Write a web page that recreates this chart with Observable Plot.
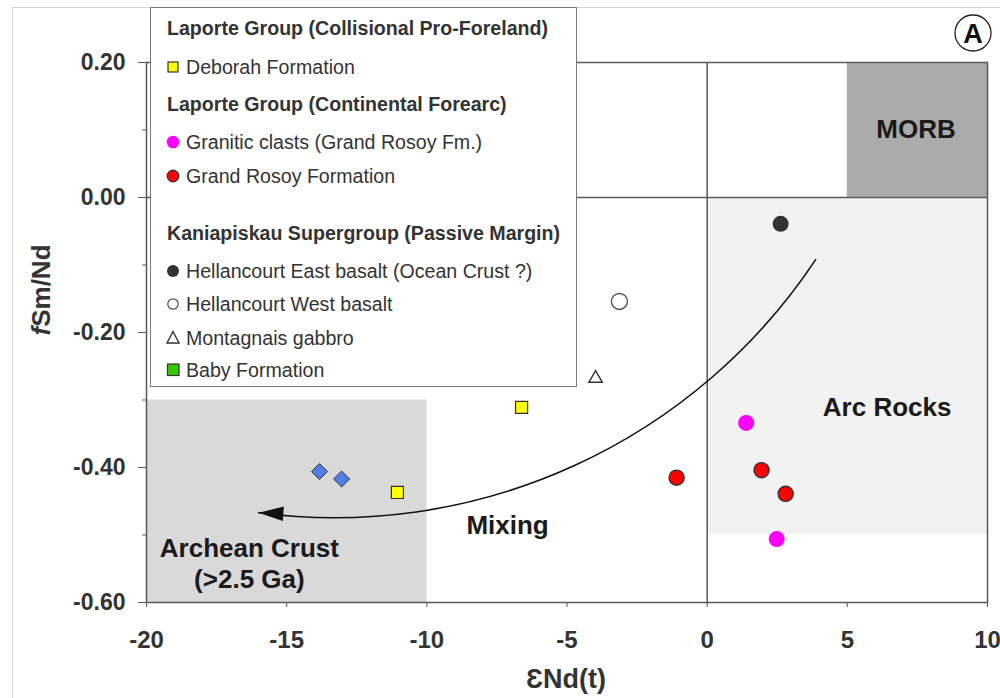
<!DOCTYPE html>
<html>
<head>
<meta charset="utf-8">
<script src="https://cdn.jsdelivr.net/npm/d3@7"></script>
<script src="https://cdn.jsdelivr.net/npm/@observablehq/plot@0.6"></script>
<style>
  body { margin: 0; background: #fff; font-family: "Liberation Sans", Arial, sans-serif; }
  #wrap { position: relative; width: 1000px; height: 698px; overflow: hidden; background: #fff; }
  #wrap > svg { position: absolute; left: 0; top: 0; }
  #outer { position: absolute; left: 12px; top: 7px; width: 1100px; height: 800px;
           border-left: 1.5px solid #d4d4d4; border-top: 1.5px solid #d4d4d4; }
  #legend { position: absolute; left: 150px; top: 7px; width: 425px; height: 378px;
            border: 1.5px solid #7a7a7a; background: #fff; }
  .lrow { position: absolute; height: 22px; line-height: 22px; font-size: 19.6px; color: #333; white-space: nowrap; }
  .lrow.hdr { font-weight: bold; }
  .lmark { position: absolute; }
</style>
</head>
<body>
<div id="wrap">
  <div id="outer"></div>
</div>
<script>
// ---------- data ----------
const xTicks = [-20, -15, -10, -5, 0, 5, 10];
const xTickLabels = ["-20", "-15", "-10", "-5", "0", "5", "10"];
const yTicks = [0.2, 0, -0.2, -0.4, -0.6];
const yTickLabels = ["0.20", "0.00", "-0.20", "-0.40", "-0.60"];
const yMinorTicks = [0.1, -0.1, -0.3, -0.5];

// samples: εNd(t), fSm/Nd
const deborah = [{x: -11.05, y: -0.437}, {x: -6.62, y: -0.311}];
const archeanSamples = [{x: -13.83, y: -0.406}, {x: -13.04, y: -0.417}];
const granitic = [{x: 1.39, y: -0.334}, {x: 2.48, y: -0.506}];
const grandRosoy = [{x: -1.09, y: -0.415}, {x: 1.94, y: -0.404}, {x: 2.80, y: -0.439}];
const hellancourtEast = [{x: 2.62, y: -0.039}];
const hellancourtWest = [{x: -3.13, y: -0.154}];
const montagnais = [{x: -3.98, y: -0.268}];
const babyFormation = [];

// fields of the diagram
const regions = [
  {name: "MORB", x1: 5, x2: 10, y1: 0, y2: 0.2},
  {name: "Arc", x1: 0, x2: 10, y1: -0.5, y2: 0},
  {name: "Archean", x1: -20, x2: -10, y1: -0.6, y2: -0.3}
];
const regionLabels = [
  {label: "MORB", x: 7.45, y: 0.1},
  {label: "Arc Rocks", x: 6.42, y: -0.312},
  {label: "Mixing", x: -7.12, y: -0.486},
  {label: "Archean Crust", x: -16.33, y: -0.5205},
  {label: "(>2.5 Ga)", x: -16.33, y: -0.566}
];
const mixingArrow = [{x1: 3.87, y1: -0.092, x2: -16.0, y2: -0.467}];

const legendRows = [
  {text: "Laporte Group (Collisional Pro-Foreland)", header: true},
  {text: "Deborah Formation", marker: "yellowSquare"},
  {text: "Laporte Group (Continental Forearc)", header: true},
  {text: "Granitic clasts (Grand Rosoy Fm.)", marker: "magentaCircle"},
  {text: "Grand Rosoy Formation", marker: "redCircle"},
  {text: "Kaniapiskau Supergroup (Passive Margin)", header: true},
  {text: "Hellancourt East basalt (Ocean Crust ?)", marker: "darkCircle"},
  {text: "Hellancourt West basalt", marker: "openCircle"},
  {text: "Montagnais gabbro", marker: "openTriangle"},
  {text: "Baby Formation", marker: "greenSquare"}
];

// ---------- styles ----------
const regionFill = {MORB: "#ababab", Arc: "#f2f2f2", Archean: "#d9d9d9"};
const lineColor = "#595959";
const legendRowCenters = [28, 67, 104, 142, 176, 233, 271, 304, 338, 370];

const arrowHead = {
  draw(context) {
    context.moveTo(0, 0);
    context.lineTo(24.2, 8.4);
    context.lineTo(25.2, -6.2);
    context.closePath();
  }
};

const chart = Plot.plot({
  width: 1000,
  height: 698,
  marginLeft: 146,
  marginRight: 13,
  marginTop: 62,
  marginBottom: 96,
  x: {domain: [-20, 10]},
  y: {domain: [-0.6, 0.2]},
  color: {type: "identity"},
  style: {fontFamily: "'Liberation Sans', Arial, sans-serif", background: "transparent", overflow: "visible"},
  marks: [
    Plot.rect(regions, {x1: "x1", x2: "x2", y1: "y1", y2: "y2", fill: d => regionFill[d.name]}),
    Plot.ruleX([0], {stroke: lineColor, strokeWidth: 1.5}),
    Plot.ruleY([0], {stroke: lineColor, strokeWidth: 1.5}),
    Plot.frame({stroke: lineColor, strokeWidth: 1.5}),
    Plot.axisY(yMinorTicks, {anchor: "left", tickSize: 4, tickFormat: () => "", label: null, stroke: lineColor}),
    Plot.axisY(yTicks, {anchor: "left", tickSize: 8, tickPadding: 13, label: null,
      tickFormat: d => yTickLabels[yTicks.indexOf(d)], fontSize: 23, fontWeight: "bold", fill: "#333", stroke: lineColor}),
    Plot.axisX(xTicks, {anchor: "bottom", tickSize: 5, tickPadding: 23, label: null,
      tickFormat: d => xTickLabels[xTicks.indexOf(d)], fontSize: 24, fontWeight: "bold", fill: "#333", stroke: lineColor}),
    Plot.arrow(mixingArrow, {x1: "x1", y1: "y1", x2: "x2", y2: "y2", bend: 32, headLength: 0,
      stroke: "#111", strokeWidth: 1.6}),
    Plot.dot(mixingArrow, {x: "x2", y: "y2", symbol: arrowHead, r: 5, fill: "#111", stroke: "none"}),
    Plot.dot(archeanSamples, {x: "x", y: "y", symbol: "diamond2", r: 7.2, fill: "#4f7fe6", stroke: "#333", strokeWidth: 1}),
    Plot.dot(deborah, {x: "x", y: "y", symbol: "square", r: 6.8, fill: "#ffff00", stroke: "#333", strokeWidth: 1.2}),
    Plot.dot(granitic, {x: "x", y: "y", r: 8, fill: "#ff00ff", stroke: "none"}),
    Plot.dot(grandRosoy, {x: "x", y: "y", r: 7.6, fill: "#ff0000", stroke: "#333", strokeWidth: 1.3}),
    Plot.dot(hellancourtEast, {x: "x", y: "y", r: 8, fill: "#333", stroke: "none"}),
    Plot.dot(hellancourtWest, {x: "x", y: "y", r: 8, fill: "none", stroke: "#555", strokeWidth: 1.4}),
    Plot.dot(montagnais, {x: "x", y: "y", symbol: "triangle", r: 5, fill: "none", stroke: "#333", strokeWidth: 1.4}),
    Plot.dot(babyFormation, {x: "x", y: "y", symbol: "square", r: 6.8, fill: "#33cc00", stroke: "#333"}),
    Plot.text(regionLabels, {x: "x", y: "y", text: "label", fontSize: 26, fontWeight: "bold", fill: "#1a1a1a"})
  ]
});

const wrap = document.getElementById("wrap");
wrap.appendChild(chart);

// axis titles and panel letter
const svg = d3.select(chart);
const yl = svg.append("text")
  .attr("transform", "translate(50,290) rotate(-90)")
  .attr("text-anchor", "middle")
  .attr("font-size", 26).attr("font-weight", "bold").attr("fill", "#333");
yl.append("tspan").attr("font-style", "italic").text("f");
yl.append("tspan").text("Sm/Nd");
svg.append("text")
  .attr("x", 566).attr("y", 688)
  .attr("text-anchor", "middle")
  .attr("font-size", 27).attr("font-weight", "bold").attr("fill", "#333")
  .text("ƐNd(t)");
svg.append("circle").attr("cx", 973).attr("cy", 33).attr("r", 18)
  .attr("fill", "#fff").attr("stroke", "#222").attr("stroke-width", 1.3);
svg.append("text").attr("x", 973).attr("y", 43).attr("text-anchor", "middle")
  .attr("font-size", 27).attr("font-weight", "bold").attr("fill", "#111").text("A");

// legend (HTML overlay)
const legend = document.createElement("div");
legend.id = "legend";
wrap.appendChild(legend);

const markerSvg = {
  yellowSquare: '<rect x="2" y="6" width="10" height="10" fill="#ffff00" stroke="#333" stroke-width="1.2"/>',
  magentaCircle: '<circle cx="7" cy="11" r="6.3" fill="#ff00ff"/>',
  redCircle: '<circle cx="7" cy="11" r="5.8" fill="#ff0000" stroke="#333" stroke-width="1.3"/>',
  darkCircle: '<circle cx="7" cy="11" r="6" fill="#333"/>',
  openCircle: '<circle cx="7" cy="11" r="5.2" fill="none" stroke="#555" stroke-width="1.3"/>',
  openTriangle: '<path d="M7,4.5 L13,16 L1,16 Z" fill="none" stroke="#333" stroke-width="1.4"/>',
  greenSquare: '<rect x="1.5" y="5" width="11.5" height="11.5" fill="#33cc00" stroke="#333" stroke-width="1.2"/>'
};

legendRows.forEach((row, i) => {
  const c = legendRowCenters[i];
  if (row.header) {
    const d = document.createElement("div");
    d.className = "lrow hdr";
    d.style.left = "167px";
    d.style.top = (c - 11) + "px";
    d.textContent = row.text;
    wrap.appendChild(d);
  } else {
    const m = document.createElementNS("http://www.w3.org/2000/svg", "svg");
    m.setAttribute("class", "lmark");
    m.setAttribute("width", 14);
    m.setAttribute("height", 22);
    m.style.left = "166px";
    m.style.top = (c - 11) + "px";
    m.innerHTML = markerSvg[row.marker];
    wrap.appendChild(m);
    const d = document.createElement("div");
    d.className = "lrow";
    d.style.left = "186px";
    d.style.top = (c - 11) + "px";
    d.textContent = row.text;
    wrap.appendChild(d);
  }
});
</script>
</body>
</html>
